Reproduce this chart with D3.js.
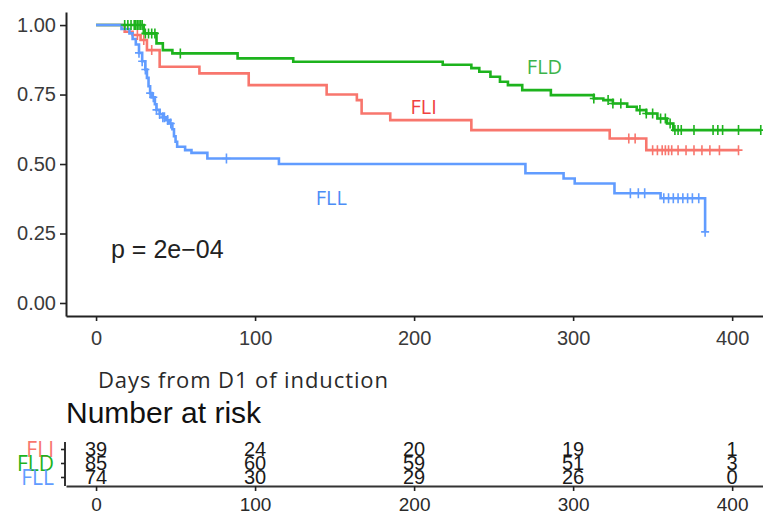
<!DOCTYPE html>
<html>
<head>
<meta charset="utf-8">
<script src="https://cdn.jsdelivr.net/npm/d3@7"></script>
<style>
  body { margin: 0; background: #fff; }
  svg { display: block; }
</style>
</head>
<body>
<svg id="chart" width="763" height="518"></svg>
<script>
// survival steps (time, survival) and censor times
const fliTimes = [0, 18, 23, 28, 32, 40, 65, 96, 145, 164, 167, 185, 236, 323, 346];
const fliSurv = [1.00, 0.976, 0.964, 0.946, 0.91, 0.85, 0.826, 0.784, 0.75, 0.73, 0.682, 0.658, 0.622, 0.592, 0.55];
const fliEnd = 404;
const fliCensor = [26, 30, 35, 335, 339, 350, 353, 356, 358, 360, 362, 366, 371, 376, 381, 386, 392, 404];

const fldTimes = [0, 30, 38, 42, 48, 89, 124, 218, 236, 241, 248, 254, 259, 268, 286, 313, 319, 325, 334, 340, 346, 353, 359, 363];
const fldSurv = [1.00, 0.97, 0.934, 0.91, 0.898, 0.88, 0.868, 0.857, 0.845, 0.832, 0.814, 0.796, 0.784, 0.766, 0.748, 0.736, 0.73, 0.718, 0.706, 0.694, 0.682, 0.664, 0.646, 0.622];
const fldEnd = 418;
const fldCensor = [18, 20, 22, 24, 25, 26, 27, 28, 29, 31, 33, 35, 37, 53, 313, 322, 325, 330, 342, 346, 350, 355, 358, 361, 364, 366, 368, 376, 388, 391, 394, 404, 418];

const fllTimes = [0, 16, 21, 23, 25, 27, 29, 31, 32, 33, 34, 35, 37, 38, 40, 42, 44, 46, 48, 49, 50, 51, 56, 60, 70, 115, 270, 294, 301, 326, 355, 383];
const fllSurv = [1.00, 0.986, 0.97, 0.95, 0.93, 0.90, 0.87, 0.84, 0.81, 0.78, 0.755, 0.74, 0.715, 0.695, 0.68, 0.668, 0.658, 0.646, 0.625, 0.60, 0.58, 0.562, 0.55, 0.54, 0.52, 0.50, 0.467, 0.448, 0.43, 0.395, 0.377, 0.256];
const fllEnd = 383;
const fllCensor = [27, 29, 31, 34, 36, 38, 40, 42, 43, 45, 47, 82, 336, 341, 345, 357, 360, 363, 366, 369, 372, 375, 379, 383];

const groups = ["FLI", "FLD", "FLL"];
const colors = ["#F8766D", "#1DB31D", "#619CFF"];
const labelColors = ["#F04040", "#3CB44B", "#4C8DF6"];

const xTicks = [0, 100, 200, 300, 400];
const yTicks = [0, 0.25, 0.5, 0.75, 1];

const riskTimes = [0, 100, 200, 300, 400];
const fliRisk = [39, 24, 20, 19, 1];
const fldRisk = [85, 60, 59, 51, 3];
const fllRisk = [74, 30, 29, 26, 0];

// curve label positions (days, survival)
const labelPos = [[206, 0.705], [282, 0.85], [148, 0.38]];

const series = [
  { times: fliTimes, surv: fliSurv, end: fliEnd, censor: fliCensor, risk: fliRisk },
  { times: fldTimes, surv: fldSurv, end: fldEnd, censor: fldCensor, risk: fldRisk },
  { times: fllTimes, surv: fllSurv, end: fllEnd, censor: fllCensor, risk: fllRisk }
];

const svg = d3.select("#chart");
svg.append("rect").attr("width", 763).attr("height", 518).attr("fill", "#fff");

const x = d3.scaleLinear().domain([-18.9, 419.4]).range([66, 763]);
const y = d3.scaleLinear().domain([-0.0468, 1.047]).range([316, 12]);

function survAt(s, t) {
  let v = s.surv[0];
  for (let i = 0; i < s.times.length; i++) {
    if (s.times[i] <= t) v = s.surv[i];
  }
  return v;
}

// main axes
const xAxis = d3.axisBottom(x).tickValues(xTicks).tickSize(5).tickPadding(10).tickSizeOuter(0);
const gx = svg.append("g").attr("transform", "translate(0,316)").call(xAxis);
const yAxis = d3.axisLeft(y).tickValues(yTicks).tickFormat(d3.format(".2f")).tickSize(6).tickPadding(4).tickSizeOuter(0);
const gy = svg.append("g").attr("transform", "translate(66,0)").call(yAxis);

[gx, gy].forEach(g => {
  g.select(".domain").attr("stroke", "#222").attr("stroke-width", 2);
  g.selectAll(".tick line").attr("stroke", "#222").attr("stroke-width", 1.6);
  g.selectAll(".tick text")
    .attr("fill", "#3a3a3a")
    .attr("font-family", "Liberation Sans, Arial, sans-serif")
    .attr("font-size", 20);
});

// step curves
const line = d3.line().curve(d3.curveStepAfter).x(d => x(d[0])).y(d => y(d[1]));
series.forEach((s, i) => {
  const pts = s.times.map((t, j) => [t, s.surv[j]]);
  pts.push([s.end, s.surv[s.surv.length - 1]]);
  svg.append("path")
    .attr("d", line(pts))
    .attr("fill", "none")
    .attr("stroke", colors[i])
    .attr("stroke-width", 2.6);
});

// censor marks
series.forEach((s, i) => {
  svg.append("g").selectAll("path")
    .data(s.censor)
    .join("path")
    .attr("transform", t => `translate(${x(t)},${y(survAt(s, t))})`)
    .attr("d", "M-4,0H4M0,-5V5")
    .attr("stroke", colors[i])
    .attr("stroke-width", 1.6);
});

// curve labels
groups.forEach((g, i) => {
  svg.append("text")
    .attr("x", x(labelPos[i][0]))
    .attr("y", y(labelPos[i][1]))
    .attr("dy", "0.36em")
    .attr("text-anchor", "middle")
    .attr("font-family", "Open Sans, sans-serif")
    .attr("font-size", 20)
    .attr("fill", labelColors[i])
    .text(g);
});

svg.append("text")
  .attr("x", 111).attr("y", 258)
  .attr("font-family", "Liberation Sans, Arial, sans-serif")
  .attr("font-size", 25)
  .attr("fill", "#222")
  .text("p = 2e\u221204");

svg.append("text")
  .attr("x", 98).attr("y", 388)
  .attr("font-family", "Open Sans, sans-serif")
  .attr("font-size", 22)
  .attr("letter-spacing", 0.9)
  .attr("fill", "#2a2a2a")
  .text("Days from D1 of induction");

svg.append("text")
  .attr("x", 66).attr("y", 423)
  .attr("font-family", "Liberation Sans, Arial, sans-serif")
  .attr("font-size", 30)
  .attr("fill", "#111")
  .text("Number at risk");

// risk table
const rowY = d3.scalePoint().domain(groups).range([449, 477]);
const rx = d3.axisBottom(x).tickValues(riskTimes).tickSize(5).tickPadding(7).tickSizeOuter(0);
const grx = svg.append("g").attr("transform", "translate(0,486)").call(rx);
const ry = d3.axisLeft(rowY).tickSize(4).tickFormat("").tickSizeOuter(0);
const gry = svg.append("g").attr("transform", "translate(65,0)").call(ry);
gry.select(".domain").attr("d", "M0,442V486");
[grx, gry].forEach(g => {
  g.select(".domain").attr("stroke", "#333").attr("stroke-width", 2);
  g.selectAll(".tick line").attr("stroke", "#222").attr("stroke-width", 1.6);
});
grx.selectAll(".tick text")
  .attr("fill", "#2a2a2a")
  .attr("font-family", "Liberation Sans, Arial, sans-serif")
  .attr("font-size", 19);

groups.forEach((g, i) => {
  svg.append("text")
    .attr("x", 54)
    .attr("y", rowY(g))
    .attr("dy", "0.36em")
    .attr("text-anchor", "end")
    .attr("font-family", "Open Sans, sans-serif")
    .attr("font-size", 21)
    .attr("fill", colors[i])
    .text(g);
  svg.append("g").selectAll("text")
    .data(series[i].risk)
    .join("text")
    .attr("x", (d, j) => x(riskTimes[j]))
    .attr("y", rowY(g))
    .attr("dy", "0.36em")
    .attr("text-anchor", "middle")
    .attr("font-family", "Liberation Sans, Arial, sans-serif")
    .attr("font-size", 20)
    .attr("fill", "#1a1a1a")
    .text(d => d);
});
</script>
</body>
</html>
